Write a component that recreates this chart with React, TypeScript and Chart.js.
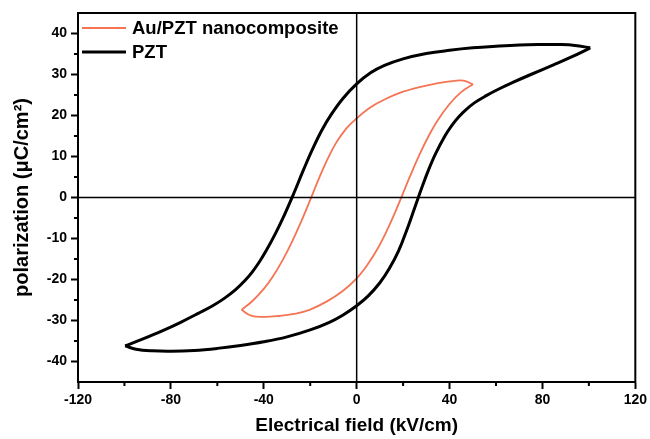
import React, { useEffect, useRef } from "react";
import { Chart, registerables } from "chart.js";

Chart.register(...registerables);

const seriesLabels = ["Au/PZT nanocomposite", "PZT"];
const seriesColors = ["#f47454", "#000000"];

const xTicks = [-120, -80, -40, 0, 40, 80, 120];
const xMinorTicks = [-100, -60, -20, 20, 60, 100];
const yTicks = [-40, -30, -20, -10, 0, 10, 20, 30, 40];
const yMinorTicks = [-35, -25, -15, -5, 5, 15, 25, 35];

// PZT loop (upper = decreasing-field branch, lower = increasing-field branch)
const pztUpperX = [-99.7, -92, -84, -76, -68, -62, -57, -52, -48, -45, -42, -39, -35, -31, -27, -23, -19, -15, -11, -6, 0, 6, 12, 20, 30, 40, 50, 60, 70, 80, 88, 94, 100.6];
const pztUpperY = [-36.2, -34.5, -32.6, -30.5, -28.2, -26.4, -24.6, -22.4, -20.2, -18.2, -15.8, -13.0, -8.8, -4.1, 1.1, 6.6, 11.8, 16.4, 20.2, 24.1, 27.7, 30.4, 32.2, 33.8, 35.1, 35.9, 36.5, 36.9, 37.2, 37.3, 37.3, 37.1, 36.5];
const pztLowerX = [-99.7, -95, -88, -80, -70, -60, -50, -40, -30, -20, -12, -6, 0, 5, 10, 14, 18, 22, 25, 28, 31, 34, 38, 41, 44, 47, 51, 56, 61, 67, 75, 85, 93, 100.6];
const pztLowerY = [-36.2, -37.0, -37.4, -37.5, -37.3, -36.8, -36.1, -35.2, -34.0, -32.3, -30.5, -28.7, -26.4, -24.0, -20.8, -17.4, -13.1, -7.3, -2.5, 2.3, 6.8, 10.7, 15.0, 17.6, 19.7, 21.4, 23.2, 24.9, 26.4, 28.0, 30.0, 32.4, 34.4, 36.5];

// Au/PZT nanocomposite loop
const auUpperX = [-49.6, -45, -40, -36, -32, -28, -24, -20, -16.5, -13, -9, -4.5, 0, 6, 12, 20, 30, 40, 46, 50.1];
const auUpperY = [-27.4, -25.3, -22.3, -19.2, -15.4, -11.0, -6.0, -0.6, 4.3, 8.8, 13.2, 16.8, 19.3, 22.0, 23.9, 25.8, 27.3, 28.3, 28.5, 27.6];
const auLowerX = [-49.6, -45.5, -40, -33.7, -27, -20.3, -13, -6, 0, 4.5, 9, 13, 16.5, 19.5, 23, 27, 31, 35, 40, 45, 50.1];
const auLowerY = [-27.4, -28.8, -29.1, -28.9, -28.4, -27.4, -25.4, -22.8, -19.7, -16.5, -12.5, -8.1, -3.7, 0.4, 5.2, 10.4, 15.0, 18.9, 22.8, 25.7, 27.6];

const FONT = "'Liberation Sans', Arial, Helvetica, sans-serif";

const toPts = (xs: number[], ys: number[]) => xs.map((x, i) => ({ x, y: ys[i] }));

const framePlugin = {
  id: "framePlugin",
  afterDatasetsDraw(chart: any) {
    const { ctx, chartArea: a, scales } = chart;
    const xs = scales.x;
    const ys = scales.y;
    ctx.save();
    ctx.strokeStyle = "#000";
    ctx.lineWidth = 1.5;
    const x0 = xs.getPixelForValue(0);
    const y0 = ys.getPixelForValue(0);
    ctx.beginPath();
    ctx.moveTo(x0, a.top);
    ctx.lineTo(x0, a.bottom);
    ctx.moveTo(a.left, y0);
    ctx.lineTo(a.right, y0);
    ctx.stroke();
    ctx.lineWidth = 2;
    ctx.strokeRect(a.left, a.top, a.right - a.left, a.bottom - a.top);
    ctx.beginPath();
    xMinorTicks.forEach((v) => {
      const px = xs.getPixelForValue(v);
      ctx.moveTo(px, a.bottom);
      ctx.lineTo(px, a.bottom + 4);
    });
    yMinorTicks.forEach((v) => {
      const py = ys.getPixelForValue(v);
      ctx.moveTo(a.left, py);
      ctx.lineTo(a.left - 4, py);
    });
    ctx.stroke();
    const rows = [28, 52];
    const widths = [2, 3];
    seriesLabels.forEach((label, i) => {
      ctx.strokeStyle = seriesColors[i];
      ctx.lineWidth = widths[i];
      ctx.beginPath();
      ctx.moveTo(a.left + 4, rows[i]);
      ctx.lineTo(a.left + 48, rows[i]);
      ctx.stroke();
      ctx.fillStyle = "#000";
      ctx.font = `bold 18.5px ${FONT}`;
      ctx.textBaseline = "middle";
      ctx.textAlign = "left";
      ctx.fillText(label, a.left + 54, rows[i] + 1);
    });
    ctx.restore();
  },
};

export default function App() {
  const ref = useRef<HTMLCanvasElement | null>(null);
  useEffect(() => {
    if (!ref.current) return;
    const chart = new Chart(ref.current, {
      type: "scatter",
      data: {
        datasets: [
          { label: seriesLabels[1], data: toPts(pztUpperX, pztUpperY), borderColor: seriesColors[1], borderWidth: 3 },
          { label: seriesLabels[1], data: toPts(pztLowerX, pztLowerY), borderColor: seriesColors[1], borderWidth: 3 },
          { label: seriesLabels[0], data: toPts(auUpperX, auUpperY), borderColor: seriesColors[0], borderWidth: 1.8 },
          { label: seriesLabels[0], data: toPts(auLowerX, auLowerY), borderColor: seriesColors[0], borderWidth: 1.8 },
        ].map((d) => ({
          ...d,
          showLine: true,
          pointRadius: 0,
          fill: false,
          tension: 0.4,
        })),
      },
      options: {
        responsive: false,
        animation: false,
        layout: { padding: { top: 13, right: 13, left: 0, bottom: 0 } },
        plugins: { legend: { display: false }, tooltip: { enabled: false } },
        scales: {
          x: {
            type: "linear",
            position: "bottom",
            min: -120,
            max: 120,
            afterBuildTicks: (s: any) => {
              s.ticks = xTicks.map((v) => ({ value: v }));
            },
            afterFit: (s: any) => {
              s.height = 57;
            },
            grid: { drawOnChartArea: false, drawTicks: true, tickLength: 7, tickWidth: 2, tickColor: "#000" },
            border: { display: true, width: 2, color: "#000" },
            ticks: { color: "#000", font: { family: FONT, size: 14, weight: "bold" }, padding: 3, maxRotation: 0 },
            title: {
              display: true,
              text: "Electrical field (kV/cm)",
              color: "#000",
              font: { family: FONT, size: 19, weight: "bold" },
              padding: { top: 0, bottom: 2 },
            },
          },
          y: {
            type: "linear",
            min: -45,
            max: 45,
            afterBuildTicks: (s: any) => {
              s.ticks = yTicks.map((v) => ({ value: v }));
            },
            afterFit: (s: any) => {
              s.width = 78;
            },
            grid: { drawOnChartArea: false, drawTicks: true, tickLength: 7, tickWidth: 2, tickColor: "#000" },
            border: { display: true, width: 2, color: "#000" },
            ticks: { color: "#000", font: { family: FONT, size: 14, weight: "bold" }, padding: 4 },
            title: {
              display: true,
              text: "polarization (μC/cm²)",
              color: "#000",
              font: { family: FONT, size: 20, weight: "bold" },
              padding: { top: 10, bottom: 0 },
            },
          },
        },
      },
      plugins: [framePlugin],
    });
    return () => chart.destroy();
  }, []);
  return (
    <div style={{ position: "absolute", left: 0, top: 0, width: 650, height: 439, background: "#fff" }}>
      <canvas ref={ref} width={650} height={439} />
    </div>
  );
}
